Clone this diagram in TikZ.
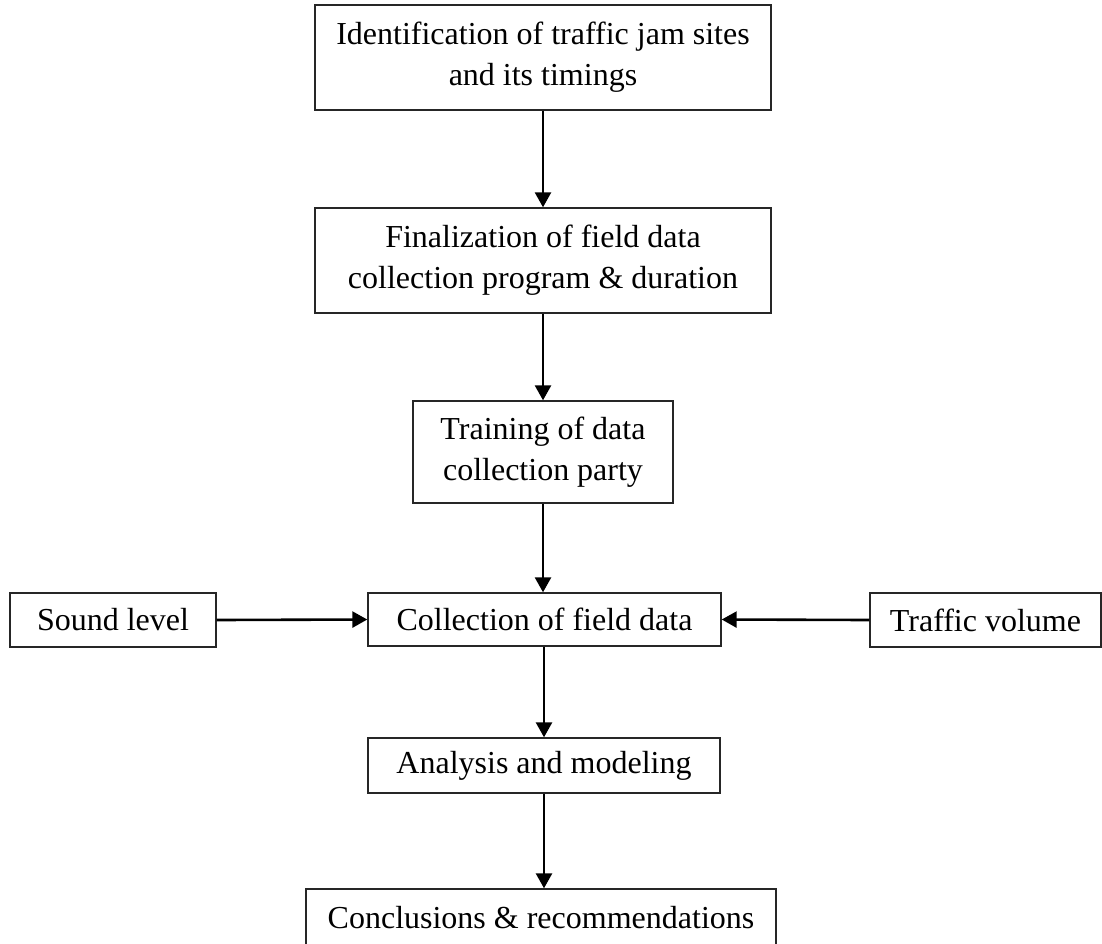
\documentclass[tikz,border=0pt]{standalone}
\usepackage{fontspec}
\setmainfont{Liberation Serif}
\usetikzlibrary{arrows.meta}
\begin{document}
\begin{tikzpicture}[x=0.5pt,y=-0.5pt,
  procbox/.style={rectangle, draw=black!85, line width=0.7pt, inner sep=0pt, align=center, font=\fontsize{16}{20.5}\selectfont},
  flowarrow/.style={-{Triangle[length=7.5pt,width=8pt]}, line width=1.3pt}]
\useasboundingbox (0,0) rectangle (1102,943);
\clip (0,0) rectangle (1102,943);
\node[procbox, minimum width=228pt, minimum height=52.5pt] (Ident) at (543,57.5) {Identification of traffic jam sites\\and its timings};
\node[procbox, minimum width=228pt, minimum height=52.5pt] (Final) at (543,260.5) {Finalization of field data\\collection program \& duration};
\node[procbox, minimum width=130pt, minimum height=51pt] (Train) at (543,452) {Training of data\\collection party};
\node[procbox, minimum width=176.5pt, minimum height=26.5pt] (Collect) at (544.5,619.5) {Collection of field data};
\node[procbox, minimum width=103pt, minimum height=27pt] (Sound) at (113,620) {Sound level};
\node[procbox, minimum width=115.5pt, minimum height=27pt] (Traffic) at (985.5,620) {Traffic volume};
\node[procbox, minimum width=176pt, minimum height=27.5pt] (Analysis) at (544,765.5) {Analysis and modeling};
\node[procbox, minimum width=235pt, minimum height=28.5pt] (Concl) at (541,917.5) {Conclusions \& recommendations};

\draw[flowarrow] (Ident.south) -- (Final.north);
\draw[flowarrow] (Final.south) -- (Train.north);
\draw[flowarrow] (Train.south) -- (Collect.north -| Train.south);
\draw[flowarrow] (Sound.east) -- (Collect.west);
\draw[flowarrow] (Traffic.west) -- (Collect.east);
\draw[flowarrow] (Collect.south -| Analysis.north) -- (Analysis.north);
\draw[flowarrow] (Analysis.south) -- (Analysis.south |- Concl.north);
\end{tikzpicture}
\end{document}
